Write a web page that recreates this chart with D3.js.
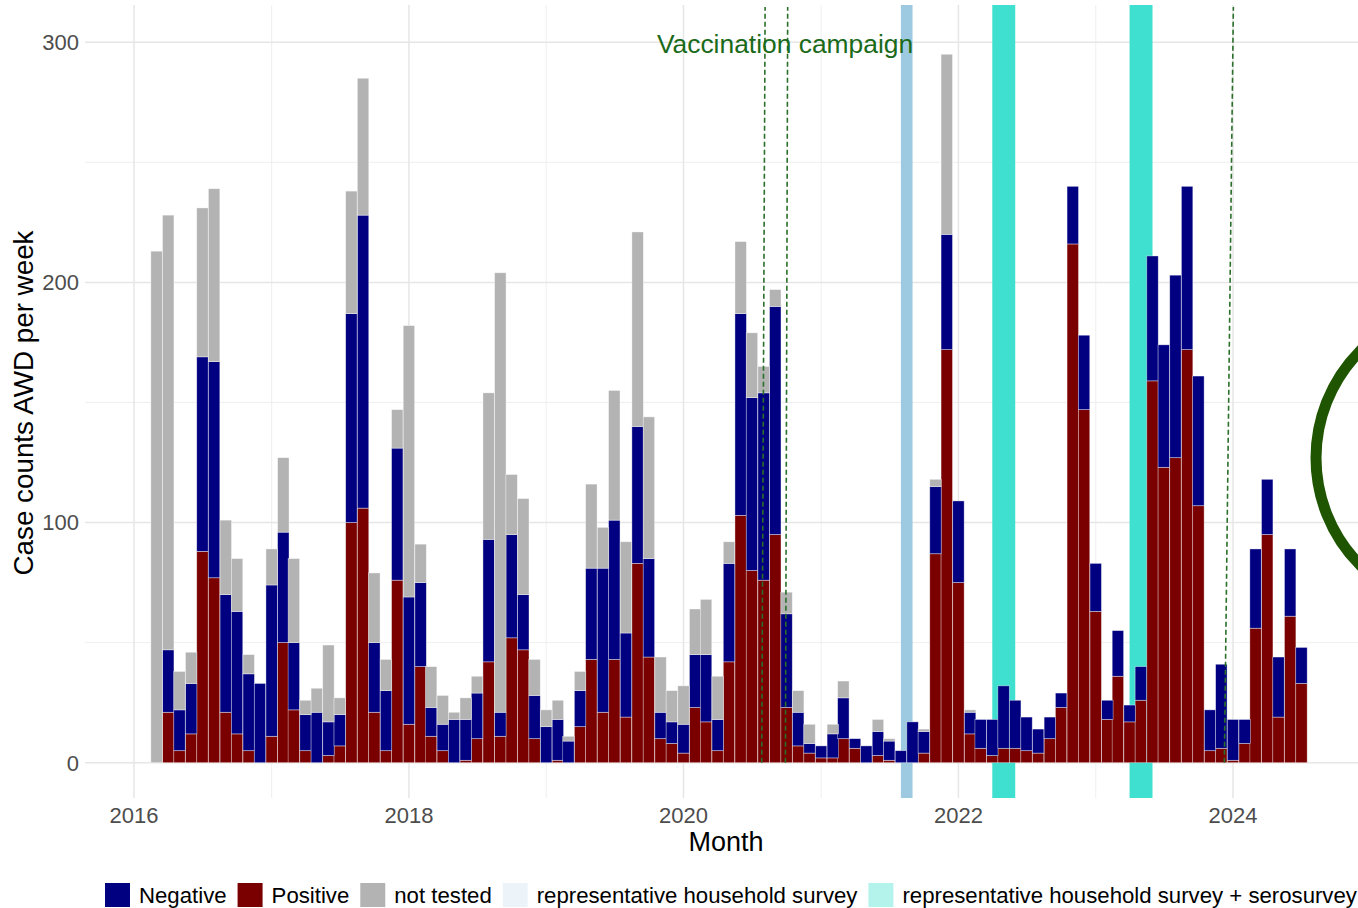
<!DOCTYPE html>
<html>
<head>
<meta charset="utf-8">
<script src="https://cdn.jsdelivr.net/npm/d3@7"></script>
<style>
  html, body { margin: 0; padding: 0; background: #ffffff; }
  svg { display: block; font-family: "Liberation Sans", Arial, sans-serif; }
</style>
</head>
<body>
<svg id="chart" width="1358" height="908"></svg>
<script>
// Monthly AWD case counts by test result, March 2016 – July 2024
const firstMonth = "2016-03-01";
const lastMonth = "2024-07-01";

const positive = [
  0, 21, 5, 12, 88, 77, 21, 12, 5, 0,
  11, 50, 22, 5, 0, 3, 7, 100, 106, 21, 5, 76,
  16, 40, 11, 5, 0, 1, 10, 42, 11, 52, 47, 10,
  0, 1, 0, 15, 43, 21, 43, 19, 83, 44, 10, 8,
  4, 23, 17, 5, 42, 103, 80, 76, 95, 23, 7, 4,
  2, 2, 10, 6, 0, 3, 1, 0, 0, 4, 87, 172,
  75, 12, 6, 3, 6, 6, 5, 4, 10, 23, 216, 147,
  63, 18, 36, 17, 26, 159, 123, 127, 172, 107, 5, 6,
  1, 8, 56, 95, 19, 61, 33
];
const negative = [
  0, 26, 17, 21, 81, 90, 49, 51, 32, 33,
  63, 46, 28, 15, 21, 14, 13, 87, 122, 29, 25, 55,
  53, 35, 12, 11, 18, 17, 19, 51, 10, 43, 23, 18,
  15, 17, 9, 15, 38, 60, 58, 35, 57, 41, 11, 9,
  12, 22, 28, 13, 41, 84, 72, 78, 95, 39, 14, 4,
  5, 10, 17, 4, 7, 10, 8, 5, 17, 9, 28, 48,
  34, 9, 12, 15, 26, 20, 14, 10, 9, 6, 24, 31,
  20, 8, 19, 7, 14, 52, 51, 76, 68, 54, 17, 35,
  17, 10, 33, 23, 25, 28, 15
];
const notTested = [
  213, 181, 16, 13, 62, 72, 31, 22, 8, 0,
  15, 31, 35, 6, 10, 32, 7, 51, 57, 29, 13, 16,
  113, 16, 17, 12, 3, 9, 7, 61, 183, 25, 40, 15,
  7, 8, 2, 8, 35, 17, 54, 38, 81, 59, 23, 13,
  16, 19, 23, 18, 9, 30, 27, 11, 7, 9, 9, 8,
  0, 4, 7, 0, 0, 5, 1, 0, 0, 1, 3, 75,
  0, 1, 0, 0, 0, 0, 0, 0, 0, 0, 0, 0,
  0, 0, 0, 0, 0, 0, 0, 0, 0, 0, 0, 0,
  0, 0, 0, 0, 0, 0, 0
];

const yTicks = [0, 100, 200, 300];
const yMinorTicks = [50, 150, 250];
const xTickYears = [2016, 2018, 2020, 2022, 2024];
const xMinorYears = [2017, 2019, 2021, 2023];

// Survey periods shaded behind the bars
const surveyStart = ["2021-08-01", "2022-04-01", "2023-04-01"];
const surveyEnd   = ["2021-09-01", "2022-06-01", "2023-06-01"];
const surveyType  = ["household", "sero", "sero"];

// Vaccination campaign markers (date at baseline, date at panel top)
const campaignBase = ["2020-07-27", "2020-09-28", "2023-12-09"];
const campaignTop  = ["2020-08-05", "2020-10-04", "2024-01-02"];

const seriesKeys = ["positive", "negative", "notTested"];
const seriesColor = { negative: "#000080", positive: "#7a0000", notTested: "#b3b3b3" };
const surveyColor = { household: "#9ecae1", sero: "#40e0d0" };

const legendItems = [
  { label: "Negative", fill: seriesColor.negative, opacity: 1 },
  { label: "Positive", fill: seriesColor.positive, opacity: 1 },
  { label: "not tested", fill: seriesColor.notTested, opacity: 1 },
  { label: "representative household survey", fill: surveyColor.household, opacity: 0.2 },
  { label: "representative household survey + serosurvey", fill: surveyColor.sero, opacity: 0.4 }
];

const parse = d3.utcParse("%Y-%m-%d");
const months = d3.utcMonth.range(parse(firstMonth), d3.utcMonth.offset(parse(lastMonth), 1));
const rows = months.map((m, i) => ({
  month: m,
  positive: positive[i],
  negative: negative[i],
  notTested: notTested[i]
}));

const svg = d3.select("#chart");
const panel = { left: 85, right: 1367, top: 5, bottom: 798 };

const x = d3.scaleUtc()
  .domain([new Date(Date.UTC(2016, 0, 1)), new Date(Date.UTC(2024, 0, 1))])
  .range([134, 1233]);
const y = d3.scaleLinear()
  .domain([-14.7, 315.5])
  .range([panel.bottom, panel.top]);

// Grid
const grid = svg.append("g");
grid.selectAll(".hminor").data(yMinorTicks).join("line")
  .attr("x1", panel.left).attr("x2", panel.right)
  .attr("y1", d => y(d)).attr("y2", d => y(d))
  .attr("stroke", "#ebebeb").attr("stroke-width", 0.8);
grid.selectAll(".vminor").data(xMinorYears).join("line")
  .attr("x1", d => x(new Date(Date.UTC(d, 0, 1)))).attr("x2", d => x(new Date(Date.UTC(d, 0, 1))))
  .attr("y1", panel.top).attr("y2", panel.bottom)
  .attr("stroke", "#ebebeb").attr("stroke-width", 0.8);
grid.selectAll(".hmajor").data(yTicks).join("line")
  .attr("x1", panel.left).attr("x2", panel.right)
  .attr("y1", d => y(d)).attr("y2", d => y(d))
  .attr("stroke", "#e6e6e6").attr("stroke-width", 1.5);
grid.selectAll(".vmajor").data(xTickYears).join("line")
  .attr("x1", d => x(new Date(Date.UTC(d, 0, 1)))).attr("x2", d => x(new Date(Date.UTC(d, 0, 1))))
  .attr("y1", panel.top).attr("y2", panel.bottom)
  .attr("stroke", "#e6e6e6").attr("stroke-width", 1.5);

// Survey bands
svg.append("g").selectAll("rect").data(surveyStart.map((s, i) => ({
  start: parse(s), end: parse(surveyEnd[i]), type: surveyType[i]
}))).join("rect")
  .attr("x", d => x(d.start))
  .attr("width", d => x(d.end) - x(d.start))
  .attr("y", panel.top)
  .attr("height", panel.bottom - panel.top)
  .attr("fill", d => surveyColor[d.type]);

// Stacked bars
const stacked = d3.stack().keys(seriesKeys)(rows);
const halfMonthHours = 365;
svg.append("g").selectAll("g").data(stacked).join("g")
  .attr("fill", d => seriesColor[d.key])
  .selectAll("rect").data(d => d.filter(s => s[1] - s[0] > 0)).join("rect")
  .attr("x", d => x(d3.utcHour.offset(d.data.month, -halfMonthHours)))
  .attr("width", d => x(d3.utcHour.offset(d.data.month, halfMonthHours)) - x(d3.utcHour.offset(d.data.month, -halfMonthHours)))
  .attr("y", d => y(d[1]))
  .attr("height", d => y(d[0]) - y(d[1]))
  .attr("stroke", "#ffffff")
  .attr("stroke-opacity", 0.55)
  .attr("stroke-width", 0.7);

// Campaign markers
svg.append("g").selectAll("line").data(campaignBase.map((b, i) => ({
  base: parse(b), top: parse(campaignTop[i])
}))).join("line")
  .attr("x1", d => x(d.base)).attr("y1", y(0))
  .attr("x2", d => x(d.top)).attr("y2", panel.top + 2)
  .attr("stroke", "#2a6e2a")
  .attr("stroke-width", 1.6)
  .attr("stroke-dasharray", "5,3");

svg.append("text")
  .attr("x", 785).attr("y", 53)
  .attr("text-anchor", "middle")
  .attr("font-size", 26.4)
  .attr("fill", "#1a6a1a")
  .text("Vaccination campaign");

// Axes labels
svg.append("g").selectAll("text").data(yTicks).join("text")
  .attr("x", 79).attr("y", d => y(d))
  .attr("dy", "0.36em")
  .attr("text-anchor", "end")
  .attr("font-size", 22)
  .attr("fill", "#4d4d4d")
  .text(d => d);

svg.append("g").selectAll("text").data(xTickYears).join("text")
  .attr("x", d => x(new Date(Date.UTC(d, 0, 1))))
  .attr("y", 823)
  .attr("text-anchor", "middle")
  .attr("font-size", 22)
  .attr("fill", "#4d4d4d")
  .text(d => d);

svg.append("text")
  .attr("x", 726).attr("y", 851)
  .attr("text-anchor", "middle")
  .attr("font-size", 27)
  .attr("fill", "#000000")
  .text("Month");

svg.append("text")
  .attr("transform", "translate(33,403) rotate(-90)")
  .attr("text-anchor", "middle")
  .attr("font-size", 27.8)
  .attr("fill", "#000000")
  .text("Case counts AWD per week");

// Annotation ring at the right edge
svg.append("ellipse")
  .attr("cx", 1468).attr("cy", 458)
  .attr("rx", 152).attr("ry", 152)
  .attr("fill", "none")
  .attr("stroke", "#1f5500")
  .attr("stroke-width", 11);

// Legend
const legend = svg.append("g");
let lx = 105;
legendItems.forEach(item => {
  legend.append("rect")
    .attr("x", lx).attr("y", 883)
    .attr("width", 25).attr("height", 24)
    .attr("fill", item.fill)
    .attr("fill-opacity", item.opacity);
  const t = legend.append("text")
    .attr("x", lx + 34).attr("y", 903)
    .attr("font-size", 22.2)
    .attr("fill", "#000000")
    .text(item.label);
  lx += 34 + t.node().getComputedTextLength() + 11;
});
</script>
</body>
</html>
